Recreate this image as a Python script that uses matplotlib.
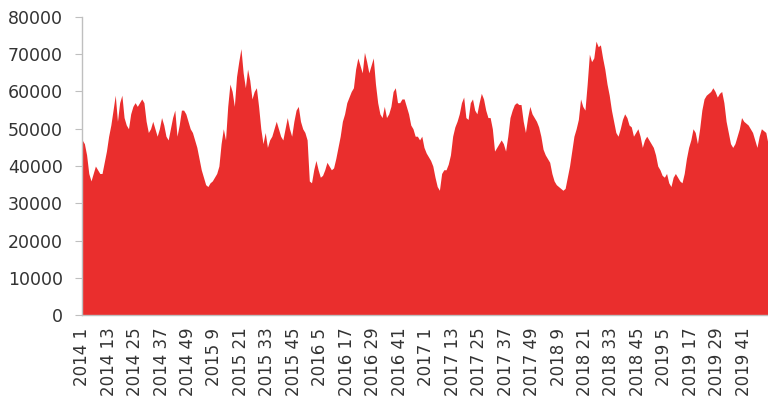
import numpy as np
import matplotlib.pyplot as plt

# weekly values, 2014 week 1 .. 2019 week 52
v2014 = [47000, 46000, 43000, 38000, 36000, 38000, 40000, 39000, 38000, 38000,
         41000, 44000, 48000, 51000, 55000, 59000, 52000, 57000, 59000, 53000,
         51000, 50000, 54000, 56000, 57000, 56000, 57000, 58000, 57000, 52000,
         49000, 50000, 52000, 50000, 48000, 50000, 53000, 51000, 48000, 47000,
         50000, 53000, 55000, 48000, 51000, 55000, 55000, 54000, 52000, 50000,
         49000, 47000]
v2015 = [45000, 42000, 39000, 37000, 35000, 34500, 35500, 36000, 37000, 38000,
         40000, 46000, 50000, 47000, 56000, 62000, 60000, 56000, 64000, 68000,
         71500, 65000, 61000, 66000, 63000, 58000, 60000, 61000, 56000, 50000,
         46000, 49000, 45000, 47000, 48000, 50000, 52000, 50000, 48000, 47000,
         50000, 53000, 50000, 48000, 52000, 55000, 56000, 52000, 50000, 49000,
         47000, 36000]
v2016 = [35500, 39000, 41500, 39000, 37000, 37500, 39000, 41000, 40000, 39000,
         39500, 42000, 45000, 48000, 52000, 54000, 57000, 58500, 60000, 61000,
         66000, 69000, 67000, 65000, 70500, 68000, 65000, 67000, 69000, 62000,
         57000, 54000, 53000, 56000, 53000, 54000, 56000, 60000, 61000, 57000,
         57000, 58000, 58000, 56000, 54000, 51000, 50000, 48000, 48000, 47000,
         48000, 45000]
v2017 = [43500, 42500, 41500, 40000, 37000, 34500, 33500, 38000, 39000, 39000,
         40500, 43000, 48000, 50500, 52000, 54000, 57000, 58500, 53000, 52500,
         57000, 58000, 55000, 54000, 57000, 59500, 58000, 55000, 53000, 53000,
         50000, 44000, 45000, 46000, 47000, 46000, 44000, 48000, 53000, 55000,
         56500, 57000, 56500, 56500, 52000, 49000, 53000, 56000, 54000, 53000,
         52000, 50500]
v2018 = [48000, 44500, 43000, 42000, 41000, 38000, 36000, 35000, 34500, 34000,
         33500, 34000, 37000, 40000, 44000, 48000, 50000, 52500, 58000, 56000,
         55000, 62000, 70000, 68000, 69000, 73500, 72000, 72500, 69000, 66000,
         62000, 59000, 55000, 52000, 49000, 48000, 50000, 52500, 54000, 53000,
         51000, 50500, 48000, 49000, 50000, 48000, 45000, 47000, 48000, 47000,
         46000, 45000]
v2019 = [43000, 40000, 39000, 37500, 37000, 38000, 35500, 34500, 37000, 38000,
         37000, 36000, 35500, 38000, 42000, 45000, 47000, 50000, 49000, 46000,
         50000, 55000, 58000, 59000, 59500, 60000, 61000, 60000, 58500, 59500,
         60000, 57000, 52000, 49000, 46000, 45000, 46000, 48000, 50000, 53000,
         52000, 51500, 51000, 50000, 49000, 47000, 45000, 48000, 50000, 49500,
         49000, 46000]

years = [2014, 2015, 2016, 2017, 2018, 2019]
values = v2014 + v2015 + v2016 + v2017 + v2018 + v2019
labels = [f"{y} {w}" for y in years for w in range(1, 53)]

x = np.arange(len(values))

fig = plt.figure(figsize=(7.68, 4.03), dpi=100)
ax = fig.add_axes([0.107, 0.218, 0.893, 0.74])
ax.fill_between(x, values, 0, color='#ea2e2d', linewidth=0)

ax.set_xlim(0, len(values) - 1)
ax.set_ylim(0, 80000)
ax.set_yticks(range(0, 80001, 10000))
ax.set_xticks(x[::12])
ax.set_xticklabels(labels[::12], rotation=90)

for s in ['top', 'right']:
    ax.spines[s].set_visible(False)
for s in ['left', 'bottom']:
    ax.spines[s].set_color('#bfbfbf')
    ax.spines[s].set_linewidth(1)

ax.tick_params(axis='y', length=5, color='#bfbfbf', pad=9, labelsize=12.5, labelcolor='#333333')
ax.tick_params(axis='x', length=0, pad=9, labelsize=12, labelcolor='#333333')

plt.savefig('out.png', dpi=100)
